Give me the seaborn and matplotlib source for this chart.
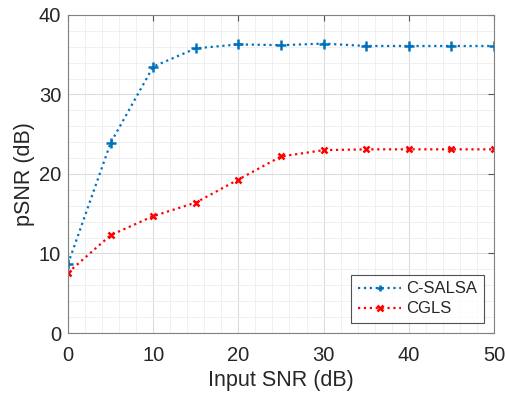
import matplotlib
matplotlib.use("Agg")
import matplotlib.pyplot as plt
import seaborn as sns
import pandas as pd
from matplotlib.ticker import MultipleLocator

input_snr = [0, 5, 10, 15, 20, 25, 30, 35, 40, 45, 50]
csalsa = [8.7, 23.9, 33.5, 35.8, 36.3, 36.2, 36.4, 36.1, 36.1, 36.1, 36.1]
cgls = [7.6, 12.3, 14.7, 16.4, 19.3, 22.2, 23.0, 23.1, 23.1, 23.1, 23.1]
series_names = ["C-SALSA", "CGLS"]

df = pd.DataFrame({
    "Input SNR": input_snr * 2,
    "pSNR": csalsa + cgls,
    "Method": [series_names[0]] * len(input_snr) + [series_names[1]] * len(input_snr),
})

sns.set_style("white")
plt.rcParams['font.family'] = ['Liberation Sans', 'DejaVu Sans']

fig = plt.figure(figsize=(5.05, 3.94), dpi=100)
ax = fig.add_axes([0.1347, 0.1548, 0.978 - 0.1347, 0.962 - 0.1548])

palette = {"C-SALSA": "#0072BD", "CGLS": "#FF0000"}
for name, mk, ms in [("C-SALSA", "+", 7), ("CGLS", "x", 5)]:
    sub = df[df["Method"] == name]
    sns.lineplot(data=sub, x="Input SNR", y="pSNR", ax=ax, color=palette[name],
                 linestyle=":", linewidth=1.6, marker=mk, markersize=ms,
                 markeredgewidth=1.8, markeredgecolor=palette[name], label=name)

ax.set_xlim(0, 50)
ax.set_ylim(0, 40)
ax.xaxis.set_major_locator(MultipleLocator(10))
ax.yaxis.set_major_locator(MultipleLocator(10))
ax.xaxis.set_minor_locator(MultipleLocator(2))
ax.yaxis.set_minor_locator(MultipleLocator(2))
ax.grid(True, which="major", color="#dcdcdc", linewidth=0.8)
ax.grid(True, which="minor", color="#eeeeee", linewidth=0.6)
ax.set_axisbelow(True)
for s in ax.spines.values():
    s.set_color("#808080")
    s.set_linewidth(0.8)
ax.tick_params(which="both", direction="in", top=True, right=True, color="#555555",
               labelsize=14.5, labelcolor="#262626", length=4)
ax.tick_params(axis="x", which="major", pad=9)
ax.tick_params(axis="y", which="major", pad=5)
ax.tick_params(which="minor", length=0)
ax.set_xlabel("Input SNR (dB)", fontsize=15.5, color="#262626", labelpad=4)
ax.set_ylabel("pSNR (dB)", fontsize=15.5, color="#262626", labelpad=3)

leg = ax.legend(loc="lower right", fontsize=12, frameon=True, fancybox=False,
                edgecolor="#262626", borderpad=0.4, handlelength=2.6,
                handletextpad=0.3, borderaxespad=0.6, labelspacing=0.3)
leg.get_frame().set_linewidth(0.8)
for h in leg.legend_handles:
    h.set_markersize(5)

fig.savefig("out.png", dpi=100)
